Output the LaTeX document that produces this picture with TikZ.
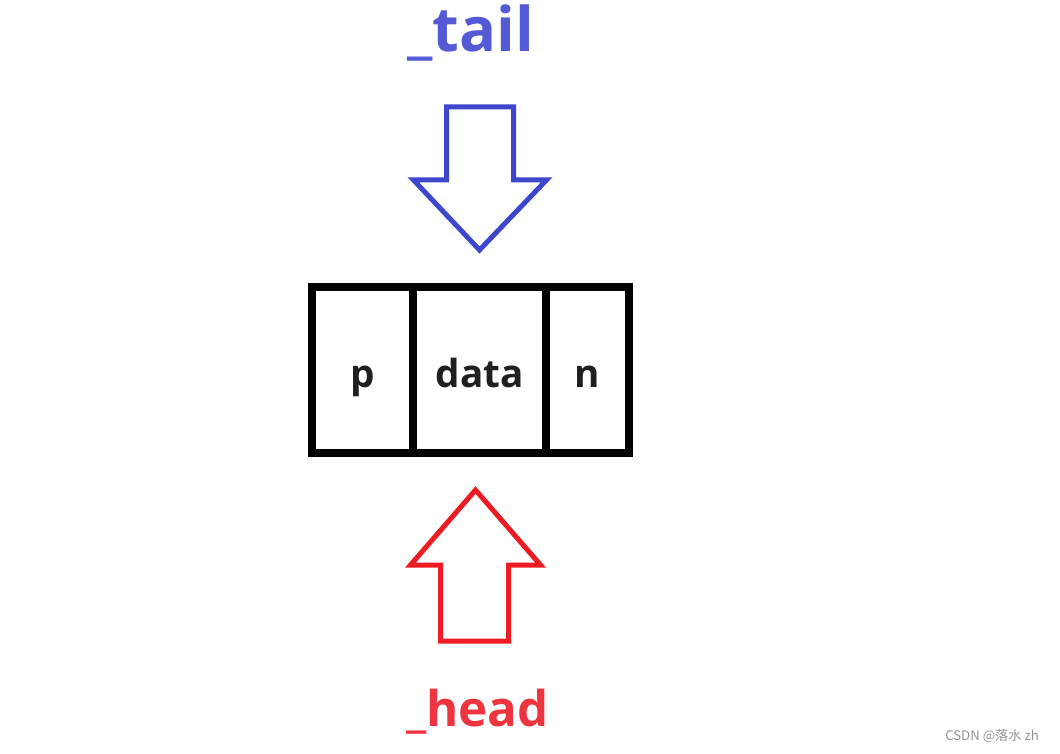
\documentclass[tikz,border=0pt]{standalone}
\usepackage{fontspec}
\setmainfont{Open Sans}
\newfontfamily\cjk{Noto Sans CJK SC}
\usepackage{tikz}
\usetikzlibrary{positioning}
\definecolor{tailblue}{RGB}{62,70,204}
\definecolor{tailtext}{RGB}{84,90,214}
\definecolor{headred}{RGB}{237,28,36}
\definecolor{headtext}{RGB}{238,52,62}
\tikzset{
  node distance=0cm,
  cell/.style={draw, line width=0.16cm, outer sep=0pt, inner sep=0pt,
    minimum height=3.32cm, text height=0.88cm, text depth=0.2cm,
    font=\fontsize{22}{26}\selectfont\bfseries, text=black!88},
  blockarrow/.style={line width=0.1cm, line join=miter},
  label/.style={inner sep=0pt, anchor=base},
}

\begin{document}
\begin{tikzpicture}
		\useasboundingbox (0,0) rectangle (21.2,-15.08);

		% cells
		\node[cell, minimum width=2.02cm] (p) at (7.25,-7.4) {p};
		\node[cell, minimum width=2.66cm, right=of p] (data) {data};
		\node[cell, minimum width=1.66cm, right=of data] (n) {n};

		% arrow tips
		\coordinate[above=0.74cm of data.north] (tailtip);
		\coordinate[below=0.74cm of data.south, xshift=-0.08cm] (headtip);

		% arrows
		\draw[blockarrow, tailblue] (tailtip) -- ++(-1.32,1.4) -- ++(0.66,0)
		  -- ++(0,1.46) -- ++(1.34,0) -- ++(0,-1.46) -- ++(0.66,0) -- cycle;
		\draw[blockarrow, headred] (headtip) -- ++(-1.3,-1.5) -- ++(0.6,0)
		  -- ++(0,-1.52) -- ++(1.36,0) -- ++(0,1.52) -- ++(0.64,0) -- cycle;

		% labels
		\node[label, tailtext, font=\fontsize{35}{40}\selectfont\bfseries]
		  (tail) at ([xshift=-0.18cm, yshift=3.96cm]tailtip) {\_tail};
		\node[label, headtext, font=\fontsize{28}{34}\selectfont\bfseries]
		  (head) at ([xshift=0.04cm, yshift=-4.72cm]headtip) {\_head};

		\node[anchor=east, text=black!42, font=\cjk\fontsize{7.5}{9}\selectfont] (mark) at (20.9,-14.72) {CSDN @落水 zh};
	\end{tikzpicture}
\end{document}
